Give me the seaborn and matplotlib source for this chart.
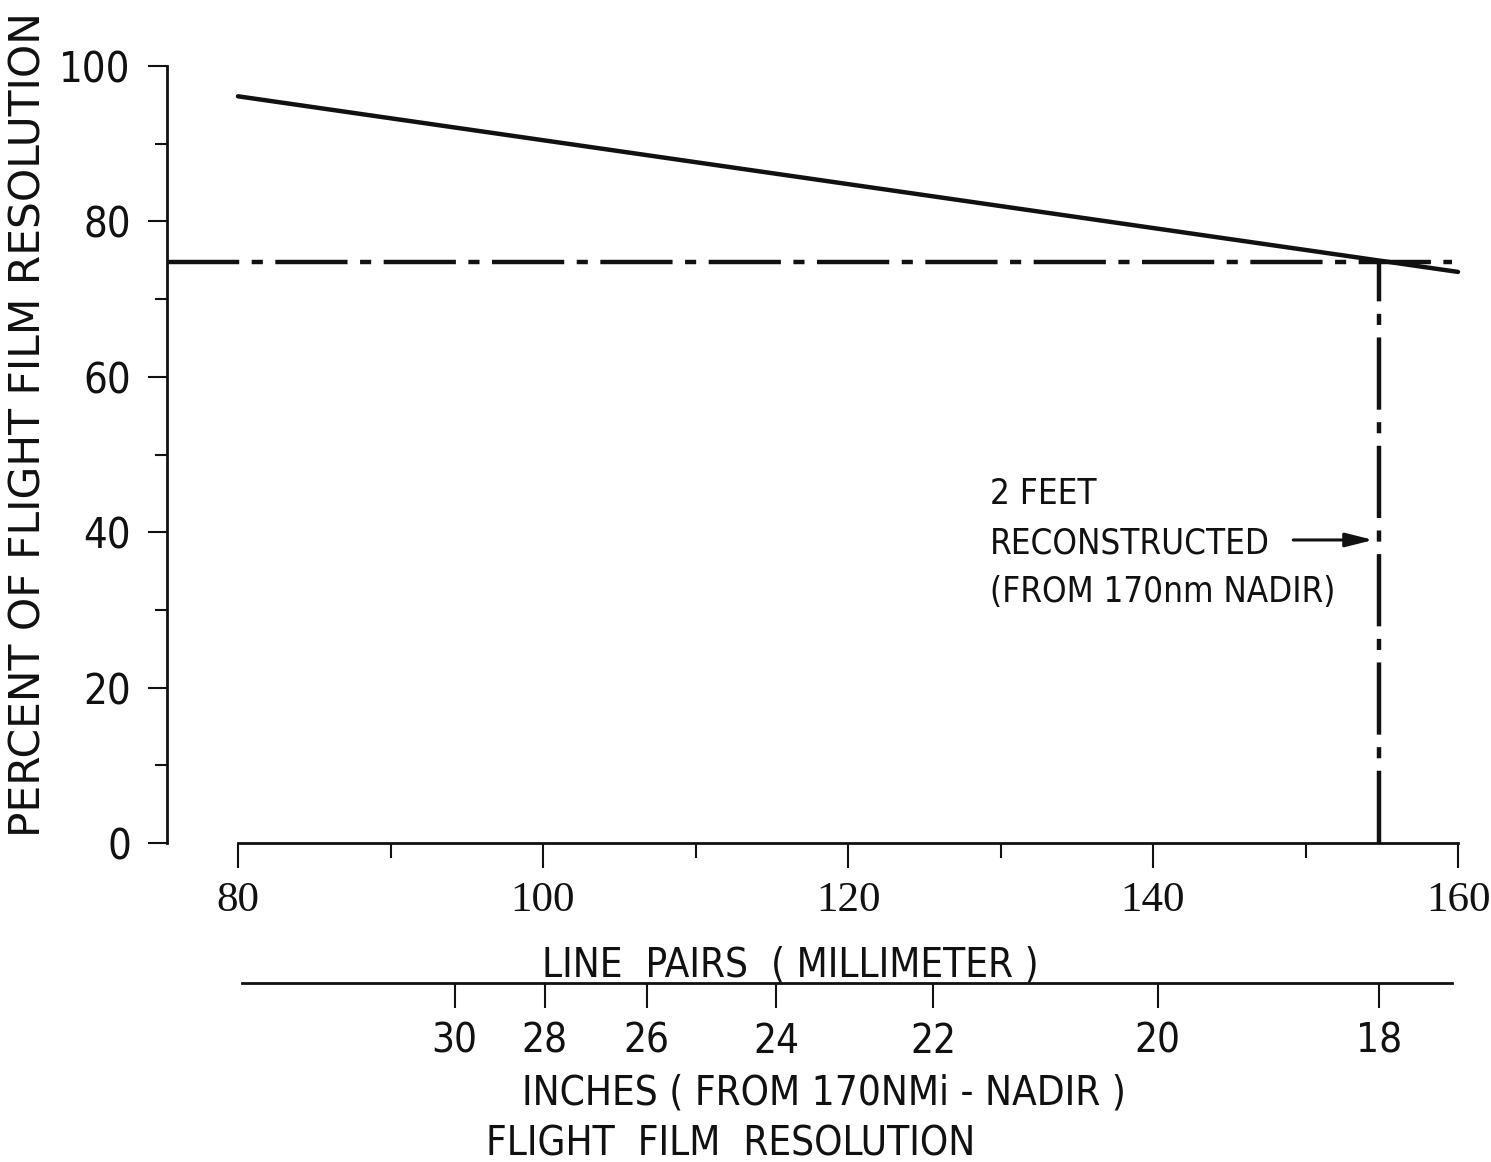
import matplotlib
matplotlib.use("Agg")
import matplotlib.pyplot as plt
from matplotlib import font_manager
from matplotlib.font_manager import FontProperties
import seaborn as sns
import pandas as pd

# ---- data -------------------------------------------------------------
line_pairs = [80, 160]            # line pairs / mm
percent_resolution = [96.1, 73.5]  # percent of flight film resolution

threshold_pct = 74.8              # reconstructed-resolution level
cutoff_lp = 154.8                 # line pairs where 2 ft is reached
arrow_pct = 39.0                  # height of the callout arrow

x_major = [80, 100, 120, 140, 160]
x_minor = [90, 110, 130, 150]
y_major = [0, 20, 40, 60, 80, 100]
y_minor = [10, 30, 50, 70, 90]

inch_labels = ["30", "28", "26", "24", "22", "20", "18"]
inch_at_lp = [94.2, 100.1, 106.8, 115.3, 125.6, 140.3, 154.8]

# ---- fonts ------------------------------------------------------------
sns.set_theme(style="white")
plt.rcParams["font.family"] = ["DejaVu Sans"]
plt.rcParams["lines.scale_dashes"] = False


def _narrow_sans():
    """Pick a regular-weight condensed sans face if one is installed."""
    best = None
    for f in font_manager.fontManager.ttflist:
        name = f.name.lower()
        stretch = str(f.stretch).lower()
        is_narrow = ("narrow" in name or "condensed" in name
                     or "condensed" in stretch)
        if not is_narrow or "serif" in name and "sans" not in name:
            continue
        if f.style != "normal" or f.weight not in (400, "normal", "regular"):
            continue
        if "semi" in stretch or "semi" in name:
            continue
        rank = 0 if "liberation" in name else 1 if "dejavu" in name else 2
        if best is None or rank < best[0]:
            best = (rank, f.fname)
    return best[1] if best else None


_nf = _narrow_sans()


def narrow(size):
    if _nf:
        return FontProperties(fname=_nf, size=size)
    return FontProperties(family="DejaVu Sans", stretch="condensed", size=size)


def serif(size):
    return FontProperties(family="Liberation Serif", size=size)


INK = "#111111"
DASHDOT = (0, (52, 9, 8, 9))

W, H = 1491, 1162
fig = plt.figure(figsize=(W / 100, H / 100), dpi=100)
ax = fig.add_axes([167 / W, (H - 843) / H, (1458 - 167) / W, (843 - 66) / H])

df = pd.DataFrame({"lp": line_pairs, "pct": percent_resolution})
sns.lineplot(data=df, x="lp", y="pct", color=INK, linewidth=3.2, ax=ax,
             clip_on=False)

x_left = 80 - (238 - 167) / 15.25
ax.set_xlim(x_left, 160)
ax.set_ylim(0, 100)

# reference level and cutoff
ax.hlines(threshold_pct, x_left, 159.6, colors=INK, linewidth=3.2,
          linestyles=[DASHDOT], clip_on=False)
ax.vlines(cutoff_lp, 0, threshold_pct, colors=INK, linewidth=3.2,
          linestyles=[DASHDOT], clip_on=False)

# spines & ticks
for s in ("top", "right"):
    ax.spines[s].set_visible(False)
for s in ("left", "bottom"):
    ax.spines[s].set_color(INK)
    ax.spines[s].set_linewidth(2.0)
ax.spines["bottom"].set_bounds(80, 160)
ax.spines["left"].set_bounds(0, 100)

ax.set_xticks(x_major)
ax.set_xticks(x_minor, minor=True)
ax.set_yticks(y_major)
ax.set_yticks(y_minor, minor=True)
ax.set_yticklabels([str(v) for v in y_major], fontproperties=narrow(30),
                   color=INK)
ax.set_xticklabels([str(v) for v in x_major], fontproperties=serif(31),
                   color=INK)
ax.tick_params(axis="x", which="major", direction="out", length=18, width=1.5,
               pad=10, color=INK, bottom=True)
ax.tick_params(axis="x", which="minor", direction="out", length=10.5,
               width=1.5, color=INK, bottom=True)
ax.tick_params(axis="y", which="major", direction="out", length=14, width=1.5,
               pad=12, color=INK, left=True)
ax.tick_params(axis="y", which="minor", direction="out", length=8.5,
               width=1.5, color=INK, left=True)
ax.set_xlabel("")
ax.set_ylabel("")

# secondary scale: ground resolution in inches
sec = ax.secondary_xaxis(-(983 - 843) / (843 - 66),
                         functions=(lambda v: v, lambda v: v))
sec.set_xticks(inch_at_lp)
sec.set_xticklabels(inch_labels, fontproperties=narrow(29), color=INK)
sec.spines["bottom"].set_bounds(80.26, 159.6)
sec.spines["bottom"].set_linewidth(2.0)
sec.spines["bottom"].set_color(INK)
sec.tick_params(axis="x", which="major", direction="out", length=18,
                width=1.5, pad=10, color=INK)
sec.tick_params(axis="x", which="minor", bottom=False)

# callout
ax.text(129.3, 38.6, "2 FEET\nRECONSTRUCTED\n(FROM 170nm NADIR)",
        fontproperties=narrow(25), color=INK, ha="left", va="center",
        linespacing=1.55)
ax.annotate("", xy=(cutoff_lp - 0.35, arrow_pct), xytext=(149.2, arrow_pct),
            arrowprops=dict(arrowstyle="-|>,head_length=1.4,head_width=0.35",
                            lw=2.2, color=INK, shrinkA=0, shrinkB=0))

# axis titles
fig.text(790 / W, 1 - 965 / H, "LINE  PAIRS  ( MILLIMETER )",
         fontproperties=narrow(29), color=INK, ha="center", va="center")
fig.text(824 / W, 1 - 1094 / H, "INCHES ( FROM 170NMi - NADIR )",
         fontproperties=narrow(29), color=INK, ha="center", va="center")
fig.text(731 / W, 1 - 1144 / H, "FLIGHT  FILM  RESOLUTION",
         fontproperties=narrow(29), color=INK, ha="center", va="center")
fig.text(29 / W, 1 - 837 / H, "PERCENT OF FLIGHT FILM RESOLUTION",
         fontsize=30.5, color=INK, rotation=90, ha="center", va="bottom")

fig.savefig("out.png", dpi=100, facecolor="white")
